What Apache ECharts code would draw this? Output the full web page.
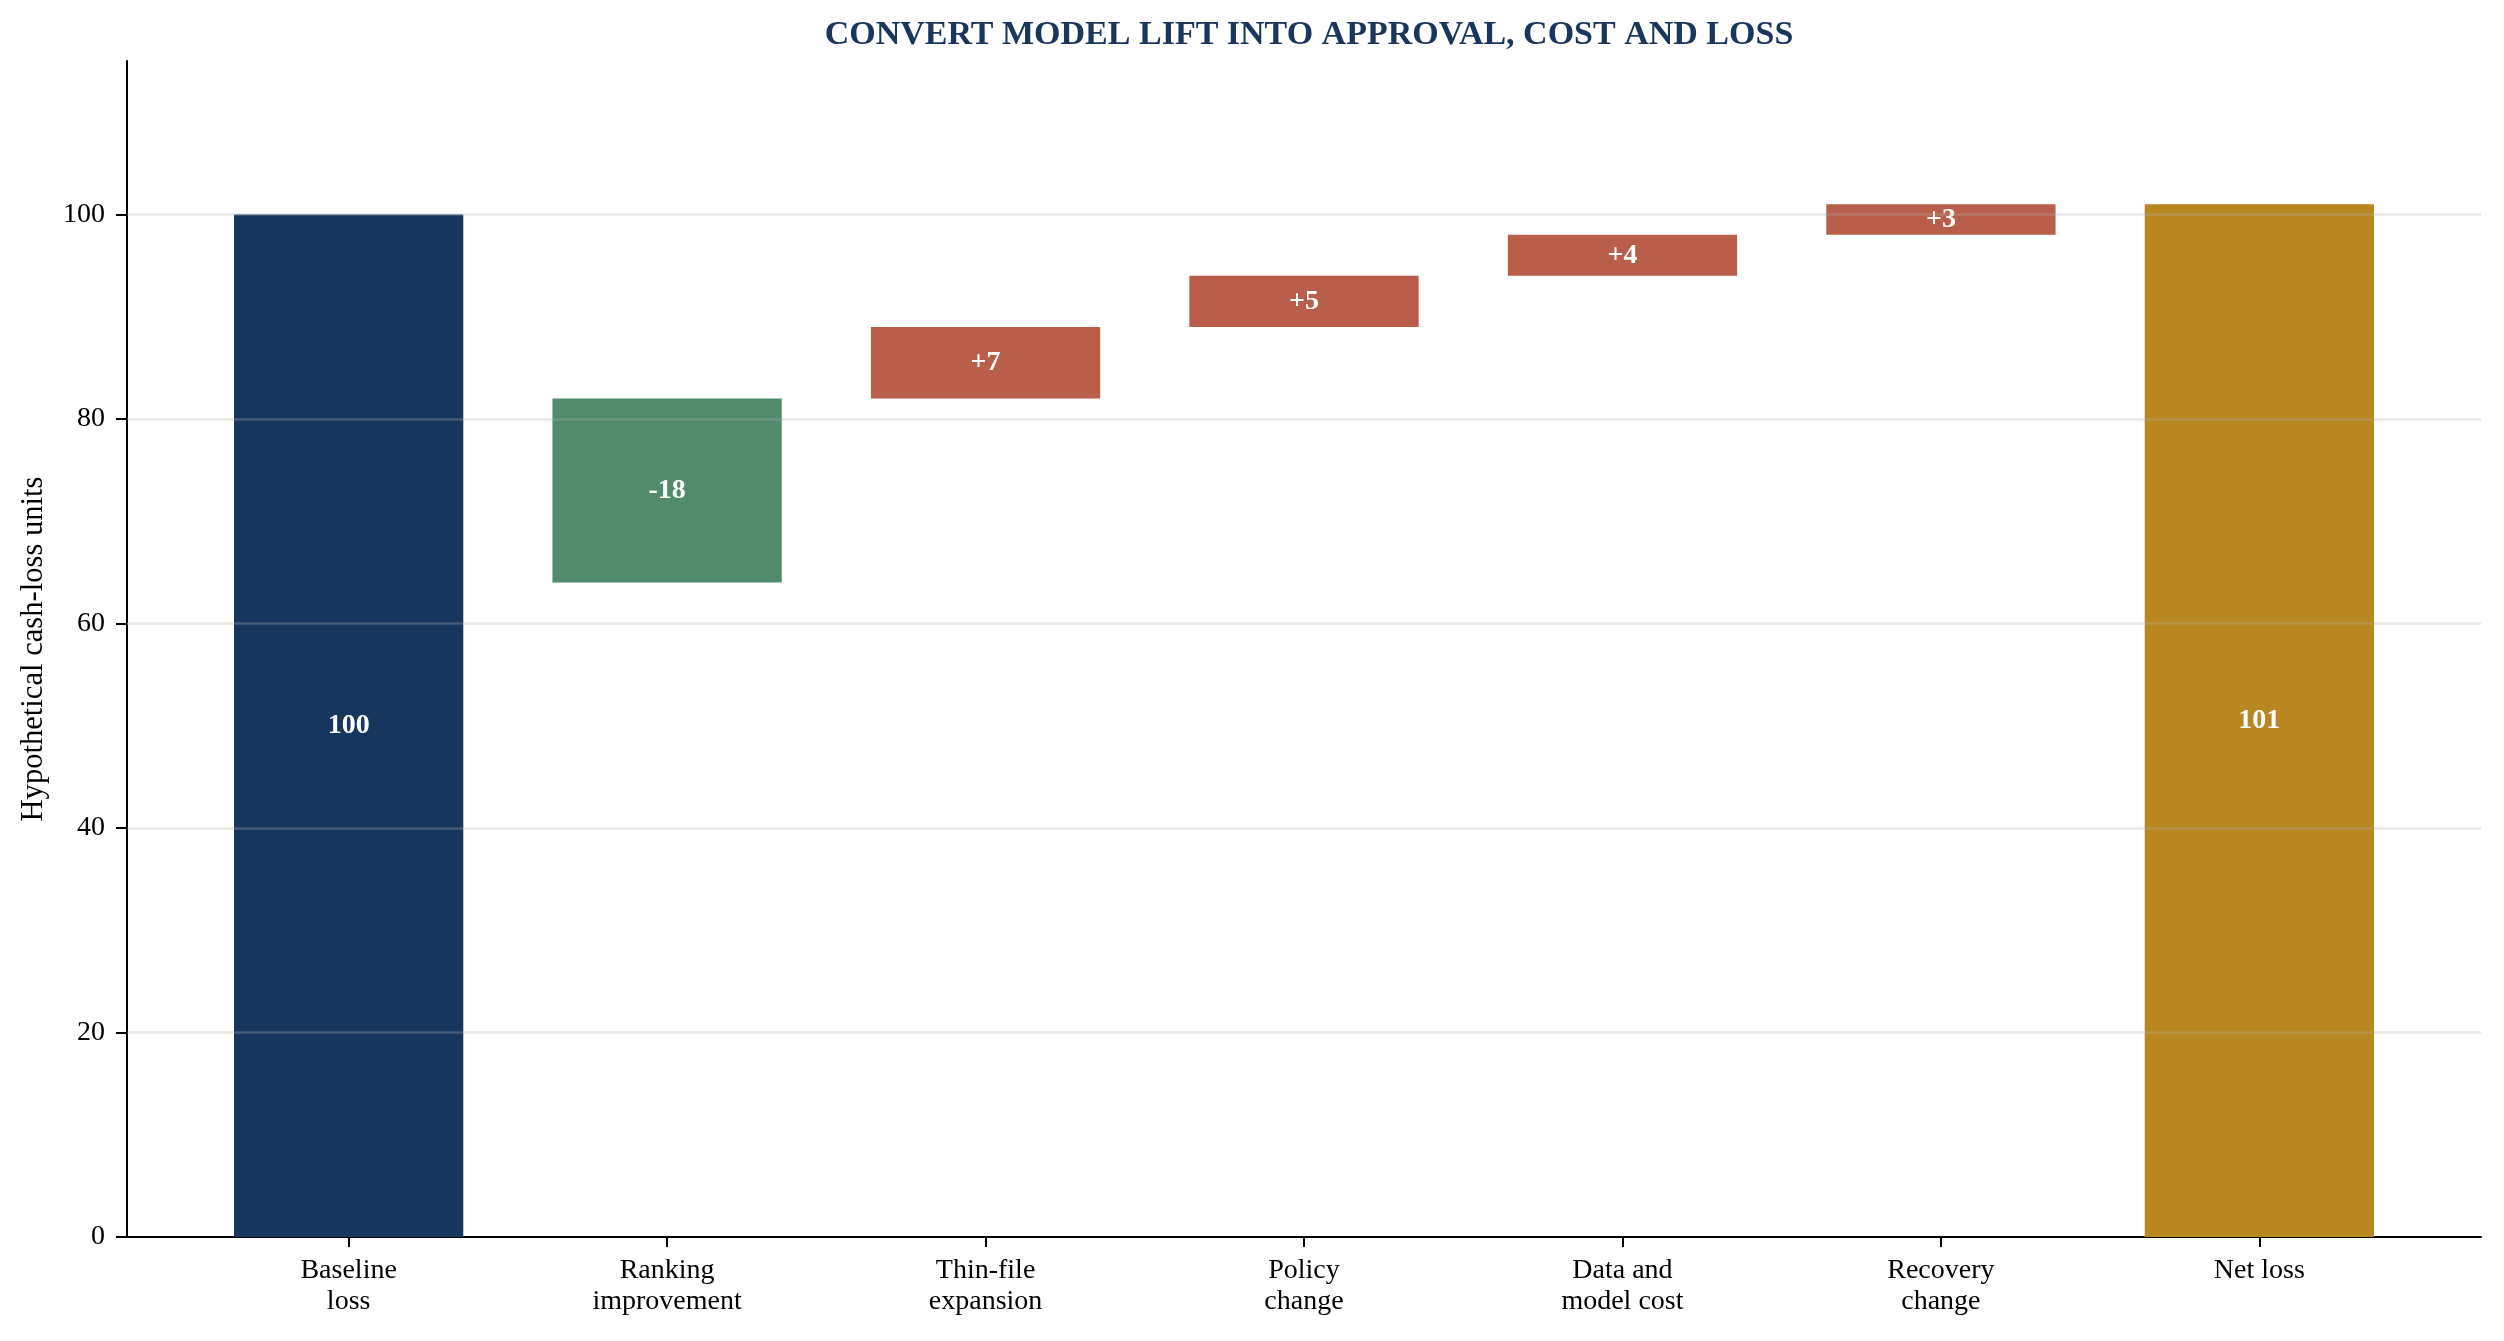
<!DOCTYPE html>
<html>
<head>
<meta charset="utf-8">
<script src="https://cdn.jsdelivr.net/npm/echarts@6/dist/echarts.min.js"></script>
<style>
html,body{margin:0;padding:0;background:#fff;}
#chart{width:2504px;height:1341px;}
</style>
</head>
<body>
<div id="chart"></div>
<script>
const titleText = 'CONVERT MODEL LIFT INTO APPROVAL, COST AND LOSS';
const yAxisName = 'Hypothetical cash-loss units';
const categories = ['Baseline\nloss', 'Ranking\nimprovement', 'Thin-file\nexpansion', 'Policy\nchange', 'Data and\nmodel cost', 'Recovery\nchange', 'Net loss'];
const steps = [100, -18, 7, 5, 4, 3, 101];
const kinds = ['total', 'down', 'up', 'up', 'up', 'up', 'net'];
const labels = ['100', '-18', '+7', '+5', '+4', '+3', '101'];
const yTicks = [0, 20, 40, 60, 80, 100];
const xTicks = [0, 1, 2, 3, 4, 5, 6];

const kindColors = { total: '#17365D', down: '#518B6B', up: '#B85E4A', net: '#B8871F' };
const FONT = '"Liberation Serif", "Times New Roman", serif';

// build waterfall ranges (as drawn in the reference: a negative step hangs
// below the new running total, a positive step sits above the previous one)
let running = 0;
const barData = steps.map((v, i) => {
  let low, high;
  if (kinds[i] === 'total' || kinds[i] === 'net') {
    low = 0; high = v; running = v;
  } else if (v < 0) {
    running = running + v;
    low = running + v; high = running;
  } else {
    low = running; high = running + v;
    running = running + v;
  }
  return [i, low, high, i];
});

const BAR_W = 0.72;
const chart = echarts.init(document.getElementById('chart'));
chart.setOption({
  backgroundColor: '#ffffff',
  animation: false,
  title: {
    text: titleText,
    left: 1304, textAlign: 'center', top: 11,
    textStyle: { fontFamily: FONT, fontWeight: 'bold', fontSize: 34, lineHeight: 38, color: '#1B365D' }
  },
  grid: { left: 127, right: 23, top: 61, bottom: 104, containLabel: false },
  xAxis: {
    type: 'value', min: -0.696, max: 6.696,
    axisLine: { show: true, onZero: false, lineStyle: { color: '#000', width: 2 } },
    axisTick: { show: true, customValues: xTicks, length: 10, lineStyle: { color: '#000', width: 2 } },
    axisLabel: {
      customValues: xTicks,
      formatter: v => categories[Math.round(v)],
      fontFamily: FONT, fontSize: 28, lineHeight: 31, color: '#000', margin: 18
    },
    splitLine: { show: false }
  },
  yAxis: {
    type: 'value', min: 0, max: 115,
    name: yAxisName, nameLocation: 'middle', nameGap: 78, nameRotate: 90,
    nameTextStyle: { fontFamily: FONT, fontSize: 30.6, color: '#000' },
    axisLine: { show: true, onZero: false, lineStyle: { color: '#000', width: 2 } },
    axisTick: { show: true, customValues: yTicks, length: 11, lineStyle: { color: '#000', width: 2 } },
    axisLabel: { customValues: yTicks, fontFamily: FONT, fontSize: 28, color: '#000', margin: 22 },
    splitLine: { show: false }
  },
  series: [
    {
      type: 'custom',
      z: 2,
      data: barData,
      encode: { x: 0, y: [1, 2] },
      renderItem: function (params, api) {
        const x = api.value(0), low = api.value(1), high = api.value(2), idx = api.value(3);
        const p1 = api.coord([x - BAR_W / 2, high]);
        const p2 = api.coord([x + BAR_W / 2, low]);
        const mid = api.coord([x, (low + high) / 2]);
        return {
          type: 'group',
          children: [
            { type: 'rect', shape: { x: p1[0], y: p1[1], width: p2[0] - p1[0], height: p2[1] - p1[1] },
              style: { fill: kindColors[kinds[idx]] } },
            { type: 'text', x: mid[0], y: mid[1],
              style: { text: labels[idx], fill: '#ffffff', align: 'center', verticalAlign: 'middle',
                       font: 'bold 28px ' + FONT } }
          ]
        };
      }
    },
    {
      type: 'line',
      z: 10,
      data: [],
      silent: true,
      markLine: {
        silent: true,
        symbol: ['none', 'none'],
        label: { show: false },
        lineStyle: { color: 'rgba(176,176,176,0.3)', width: 2.5, type: 'solid' },
        data: yTicks.filter(v => v > 0).map(v => ({ yAxis: v }))
      }
    }
  ]
});
</script>
</body>
</html>
